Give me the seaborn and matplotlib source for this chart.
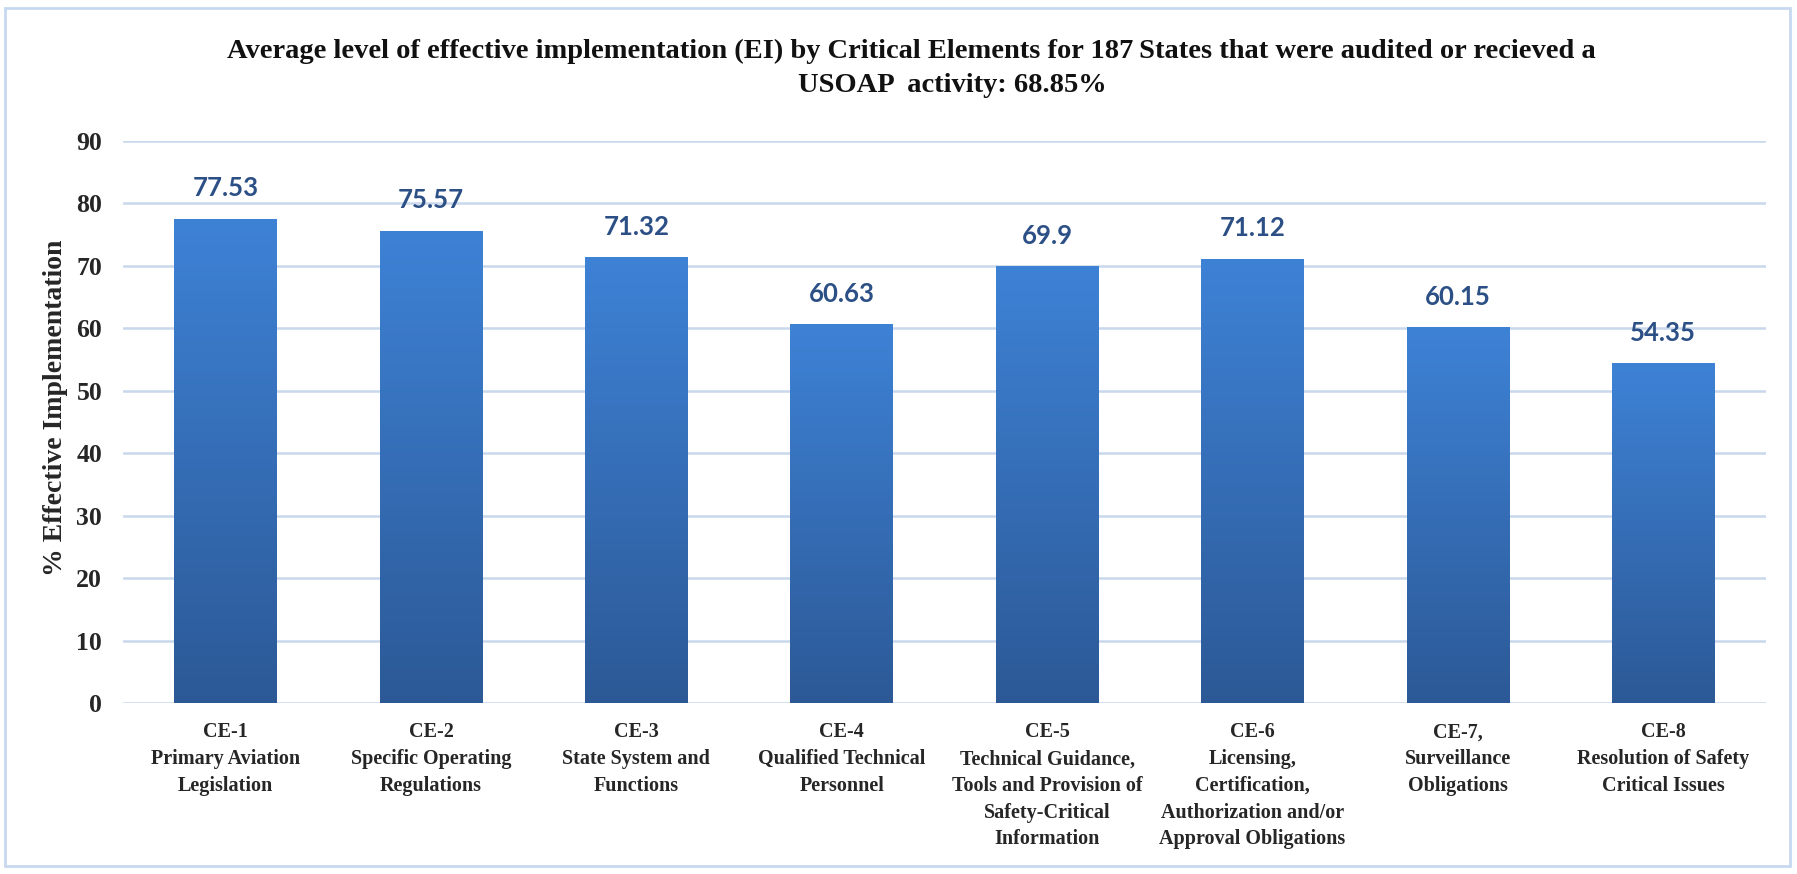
import numpy as np
import matplotlib
matplotlib.use("Agg")
import matplotlib.pyplot as plt
import seaborn as sns
from matplotlib.colors import LinearSegmentedColormap
from matplotlib.patches import Rectangle

# DATA

categories = [
    "CE-1\nPrimary Aviation\nLegislation",
    "CE-2\nSpecific Operating\nRegulations",
    "CE-3\nState System and\nFunctions",
    "CE-4\nQualified Technical\nPersonnel",
    "CE-5\nTechnical Guidance,\nTools and Provision of\nSafety-Critical\nInformation",
    "CE-6\nLicensing,\nCertification,\nAuthorization and/or\nApproval Obligations",
    "CE-7,\nSurveillance\nObligations",
    "CE-8\nResolution of Safety\nCritical Issues",
]
ei_values = [77.53, 75.57, 71.32, 60.63, 69.9, 71.12, 60.15, 54.35]
y_ticks = [0, 10, 20, 30, 40, 50, 60, 70, 80, 90]

title_line1 = ("Average level of effective implementation (EI) by Critical Elements "
               "for 187\u2009States that were audited or recieved a")
title_line2 = "USOAP  activity: 68.85%"
ylabel = "% Effective Implementation"

# STYLE

sns.set_style("white")
plt.rcParams["font.family"] = ["Liberation Serif", "DejaVu Serif"]

bar_top = "#3e82d6"
bar_bottom = "#2c5996"
grid_col = "#c9d8ec"
label_col = "#2c5086"

W, H = 1797, 874
fig = plt.figure(figsize=(W / 100, H / 100), dpi=100)
ax = fig.add_axes([123 / W, (H - 703) / H, (1766 - 123) / W, (703 - 140.7) / H])

sns.barplot(x=categories, y=ei_values, color=bar_top, width=0.5, ax=ax,
            saturation=1, linewidth=0)

# gradient fill on each bar (lighter at the top)
grad = np.linspace(0, 1, 256).reshape(-1, 1)
cmap = LinearSegmentedColormap.from_list("bar", [bar_bottom, bar_top])
for p in ax.patches:
    x0, y0, w, h = p.get_x(), p.get_y(), p.get_width(), p.get_height()
    im = ax.imshow(grad, extent=[x0, x0 + w, y0, y0 + h], origin="lower",
                   cmap=cmap, aspect="auto", zorder=3)
    im.set_clip_path(p)

for i, v in enumerate(ei_values):
    ax.text(i, v + 3.6, f"{v:g}", ha="center", va="baseline",
            fontsize=18.5, fontweight="bold", color=label_col,
            family=["Lato", "DejaVu Sans"], zorder=4)

ax.set_xlim(-0.5, len(categories) - 0.5)
ax.set_ylim(0, 90)
ax.set_yticks(y_ticks)
ax.yaxis.grid(True, color=grid_col, linewidth=1.8)
ax.set_axisbelow(True)
sns.despine(ax=ax, left=True, bottom=True)

ax.tick_params(axis="y", length=0, pad=15, labelsize=18.5)
ax.tick_params(axis="x", length=0, pad=14, labelsize=14.5)
for t in ax.get_yticklabels():
    t.set_fontweight("bold")
for t in ax.get_xticklabels():
    t.set_fontweight("bold")
    t.set_linespacing(1.45)

ax.set_ylabel(ylabel, fontsize=20, fontweight="bold", va="center")
ax.yaxis.set_label_coords((56 - 123) / (1766 - 123), (703 - 408) / (703 - 140.7))
ax.set_xlabel("")

fig.text(911 / W, 1 - 51.5 / H, title_line1, ha="center", va="center",
         fontsize=20.5, fontweight="bold", color="#111111")
fig.text(952 / W, 1 - 86 / H, title_line2, ha="center", va="center",
         fontsize=20.5, fontweight="bold", color="#111111")

# light frame around the whole chart
fig.patches.append(Rectangle((5 / W, 8 / H), (1790 - 5) / W, (866 - 8) / H,
                             transform=fig.transFigure, fill=False,
                             edgecolor="#c6d9f1", linewidth=2))

fig.savefig("out.png", dpi=100)
